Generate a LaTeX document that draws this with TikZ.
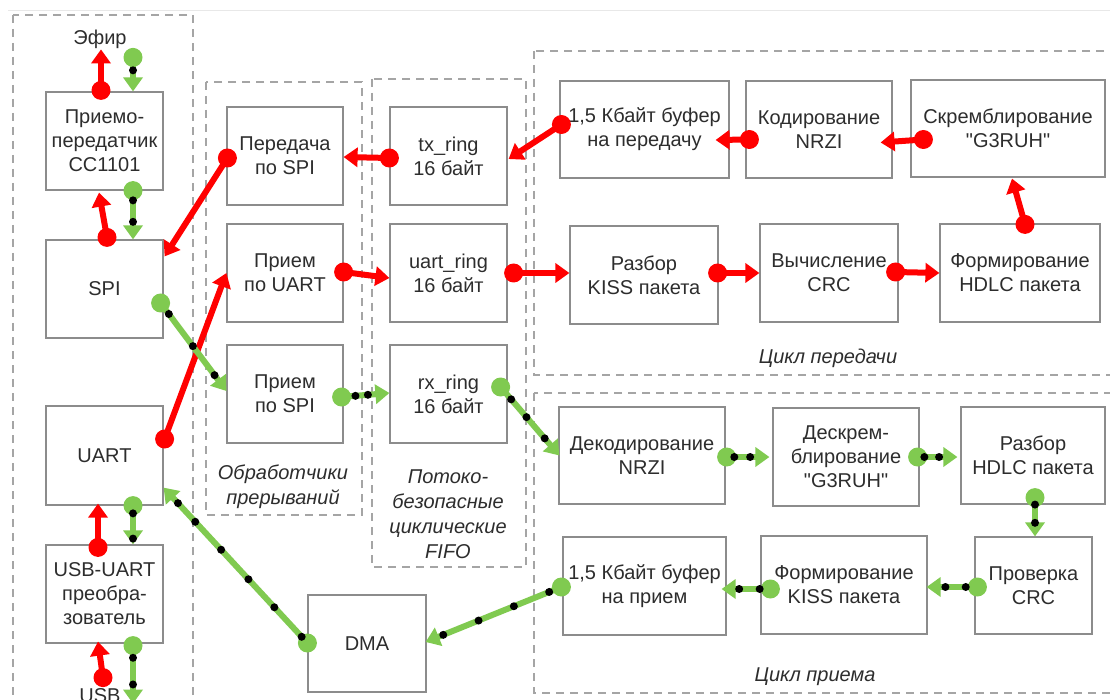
\documentclass[tikz,border=0pt]{standalone}
\usepackage{fontspec}
\setmainfont{Liberation Sans}[Ligatures=TeXOff]
\usetikzlibrary{arrows.meta,calc}
\definecolor{grn}{RGB}{128,202,80}
\definecolor{txt}{RGB}{45,45,45}
\definecolor{bord}{RGB}{140,140,140}
\definecolor{dsh}{RGB}{165,165,165}
\begin{document}
\begin{tikzpicture}[x=1pt,y=-1pt,
  box/.style={draw=bord, line width=1.2pt, fill=white, text=txt, align=center, inner sep=0pt, font=\fontsize{20}{24}\selectfont},
  region/.style={draw=dsh, line width=1.5pt, dash pattern=on 8pt off 6pt},
  lbl/.style={text=txt, align=center, inner sep=0pt, font=\fontsize{20}{25}\selectfont\itshape},
  plain/.style={text=txt, inner sep=0pt, font=\fontsize{20}{24}\selectfont},
  redarr/.style={draw=red, line width=6pt, -{Triangle[length=14pt,width=19pt]}},
  reddot/.style={circle, fill=red, minimum size=19pt, inner sep=0pt},
  grnarr/.style={draw=grn, line width=6pt, -{Triangle[length=14pt,width=19pt]}},
  grndot/.style={circle, fill=grn, minimum size=19pt, inner sep=0pt},
  bdot/.style={circle, fill=black, minimum size=8pt, inner sep=0pt}
]
\path[use as bounding box, fill=white] (0,0) rectangle (1110,700);
\draw[color={rgb,255:red,232;green,232;blue,232}, line width=1pt] (8,11) -- (1110,11);

% regions
\draw[region] (13,15) rectangle (193,720);
\draw[region] (206,82) rectangle (362,515);
\draw[region] (372,79) rectangle (526,567);
\draw[region] (534,51) rectangle (1125,375);
\draw[region] (534,393) rectangle (1125,693);

% left column
\node[plain] (ether) at (100,39) {Эфир};
\node[box, minimum width=117pt, minimum height=98pt] (trx) at (104.5,141) {Приемо-\\передатчик\\CC1101};
\node[box, minimum width=117pt, minimum height=98pt] (spi) at (104.5,289) {SPI};
\node[box, minimum width=117pt, minimum height=99pt] (uart) at (104.5,455.5) {UART};
\node[box, minimum width=117pt, minimum height=98pt] (usb) at (104.5,594) {USB-UART\\преобра-\\зователь};
\node[plain, anchor=base] (usbtxt) at (100,702) {USB};

% interrupt handlers
\node[box, minimum width=116pt, minimum height=98pt] (txspi) at (285,156) {Передача\\по SPI};
\node[box, minimum width=116pt, minimum height=98pt] (rxuart) at (285,273) {Прием\\по UART};
\node[box, minimum width=116pt, minimum height=98pt] (rxspi) at (285,394) {Прием\\по SPI};
\node[lbl] (lblint) at (283,487) {Обработчики\\прерываний};

% fifos
\node[box, minimum width=117pt, minimum height=98pt] (txring) at (448.5,156) {tx\_ring\\16 байт};
\node[box, minimum width=117pt, minimum height=98pt] (uartring) at (448.5,273) {uart\_ring\\16 байт};
\node[box, minimum width=117pt, minimum height=98pt] (rxring) at (448.5,394) {rx\_ring\\16 байт};
\node[lbl] (lblfifo) at (448,514) {Потоко-\\безопасные\\циклические\\FIFO};

% DMA
\node[box, minimum width=118pt, minimum height=97pt] (dma) at (367,643.5) {DMA};

% TX cycle
\node[box, minimum width=169pt, minimum height=97pt] (txbuf) at (644.5,129.5) {1,5 Кбайт буфер\\на передачу};
\node[box, minimum width=146pt, minimum height=97pt] (nrzienc) at (819,129.5) {Кодирование\\NRZI};
\node[box, minimum width=194pt, minimum height=97pt] (scr) at (1008,128.5) {Скремблирование\\"G3RUH"};
\node[box, minimum width=148pt, minimum height=98pt] (kiss) at (644,275) {Разбор\\KISS пакета};
\node[box, minimum width=138pt, minimum height=98pt] (crc) at (829,273) {Вычисление\\CRC};
\node[box, minimum width=160pt, minimum height=98pt] (hdlc) at (1020,273) {Формирование\\HDLC пакета};
\node[lbl] (lbltx) at (828,358) {Цикл передачи};

% RX cycle
\node[box, minimum width=166pt, minimum height=97pt] (nrzidec) at (642,455.5) {Декодирование\\NRZI};
\node[box, minimum width=146pt, minimum height=98pt] (descr) at (846,457) {Дескрем-\\блирование\\"G3RUH"};
\node[box, minimum width=144pt, minimum height=97pt] (hdlcparse) at (1033,455.5) {Разбор\\HDLC пакета};
\node[box, minimum width=163pt, minimum height=98pt] (rxbuf) at (644.5,586) {1,5 Кбайт буфер\\на прием};
\node[box, minimum width=166pt, minimum height=98pt] (kissform) at (844,585) {Формирование\\KISS пакета};
\node[box, minimum width=117pt, minimum height=97pt] (crccheck) at (1033.5,585.5) {Проверка\\CRC};
\node[lbl] (lblrx) at (815,677) {Цикл приема};

% red (transmit) connectors
\draw[redarr] ($(trx.north)+(-3.5,-1)$) node[reddot]{} -- ($(trx.north)+(-3.5,-42)$);
\draw[redarr] ($(spi.north)+(2.5,-2)$) node[reddot]{} -- ($(trx.south)+(-5.5,2)$);
\draw[redarr] ($(txspi.west)+(1,2)$) node[reddot]{} -- ($(spi.north east)+(1,17)$);
\draw[redarr] ($(txring.west)+(0,2)$) node[reddot]{} -- ($(txspi.east)+(0,1)$);
\draw[redarr] ($(txbuf.west)+(2,-5)$) node[reddot]{} -- ($(txring.east)+(1,3)$);
\draw[redarr] ($(nrzienc.west)+(4,10)$) node[reddot]{} -- ($(txbuf.east)+(-14,10.5)$);
\draw[redarr] ($(scr.west)+(13,11)$) node[reddot]{} -- ($(nrzienc.east)+(-12,13)$);
\draw[redarr] ($(hdlc.north)+(5,1)$) node[reddot]{} -- ($(scr.south)+(4,1)$);
\draw[redarr] ($(uartring.east)+(6,0)$) node[reddot]{} -- ($(kiss.west)+(0,-2)$);
\draw[redarr] ($(kiss.east)+(-1,-2)$) node[reddot]{} -- (crc.west);
\draw[redarr] ($(crc.east)+(-3,-1)$) node[reddot]{} -- (hdlc.west);
\draw[redarr] ($(rxuart.east)+(0,-1)$) node[reddot]{} -- ($(uartring.west)+(0,5)$);
\draw[redarr] ($(uart.east)+(1,-16.5)$) node[reddot]{} -- (rxuart.west);
\draw[redarr] ($(usb.north)+(-6.5,3)$) node[reddot]{} -- ($(uart.south)+(-6.5,-2)$);
\draw[redarr] ($(usb.south)+(-1.5,34)$) node[reddot]{} -- ($(usb.south)+(-6.5,-2)$);

% green (receive) connectors
\draw[grnarr] ($(trx.north)+(28.5,-34)$) node[grndot]{} -- node[bdot,pos=0.38]{} ($(trx.north)+(28.5,0)$);
\draw[grnarr] ($(trx.south)+(28.5,0)$) node[grndot]{} -- node[bdot,pos=0.2]{} node[bdot,pos=0.64]{} ($(spi.north)+(28.5,0)$);
\draw[grnarr] ($(spi.east)+(-3,14)$) node[grndot]{} -- node[bdot,pos=0.125]{} node[bdot,pos=0.49]{} node[bdot,pos=0.82]{} ($(rxspi.west)+(0,-3)$);
\draw[grnarr] ($(rxspi.east)+(-2,3)$) node[grndot]{} -- node[bdot,pos=0.29]{} node[bdot,pos=0.55]{} ($(rxring.west)+(0,-1)$);
\draw[grnarr] ($(rxring.east)+(-7,-7)$) node[grndot]{} -- node[bdot,pos=0.18]{} node[bdot,pos=0.44]{} node[bdot,pos=0.75]{} ($(nrzidec.west)+(1,0)$);
\draw[grnarr] ($(nrzidec.east)+(1,1.5)$) node[grndot]{} -- node[bdot,pos=0.18]{} node[bdot,pos=0.55]{} ($(descr.west)+(-3,0)$);
\draw[grnarr] ($(descr.east)+(-2,0)$) node[grndot]{} -- node[bdot,pos=0.17]{} node[bdot,pos=0.54]{} ($(hdlcparse.west)+(-3,1.5)$);
\draw[grnarr] ($(hdlcparse.south)+(2,-7)$) node[grndot]{} -- node[bdot,pos=0.18]{} node[bdot,pos=0.65]{} ($(crccheck.north)+(1.5,0)$);
\draw[grnarr] ($(crccheck.west)+(3,1.5)$) node[grndot]{} -- node[bdot,pos=0.23]{} node[bdot,pos=0.63]{} ($(kissform.east)+(-1,2)$);
\draw[grnarr] ($(kissform.west)+(10,4)$) node[grndot]{} -- node[bdot,pos=0.22]{} node[bdot,pos=0.64]{} ($(rxbuf.east)+(-5,3)$);
\draw[grnarr] ($(rxbuf.west)+(-1,1)$) node[grndot]{} -- node[bdot,pos=0.09]{} node[bdot,pos=0.35]{} node[bdot,pos=0.61]{} node[bdot,pos=0.87]{} ($(dma.east)+(-1,-1.5)$);
\draw[grnarr] ($(dma.west)+(0,-0.5)$) node[grndot]{} -- node[bdot,pos=0.04]{} node[bdot,pos=0.23]{} node[bdot,pos=0.41]{} node[bdot,pos=0.6]{} node[bdot,pos=0.78]{} node[bdot,pos=0.9]{} ($(uart.south east)+(0,-18)$);
\draw[grnarr] ($(uart.south)+(28.5,0)$) node[grndot]{} -- node[bdot,pos=0.2]{} node[bdot,pos=0.85]{} ($(usb.north)+(28.5,0)$);
\draw[grnarr] ($(usb.south)+(28.5,2)$) node[grndot]{} -- node[bdot,pos=0.21]{} node[bdot,pos=0.67]{} ($(usb.south)+(28.5,60)$);
\end{tikzpicture}
\end{document}
